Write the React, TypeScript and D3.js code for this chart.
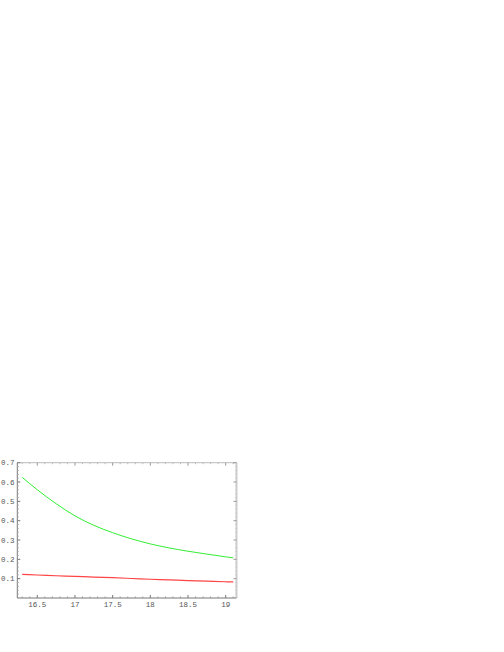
import React from "react";
import { scaleLinear, line, curveMonotoneX, range } from "d3";

const xValues = [16.3, 16.5, 16.75, 17, 17.25, 17.5, 17.75, 18, 18.25, 18.5, 18.75, 19, 19.1];
const greenValues = [0.624, 0.56, 0.488, 0.425, 0.376, 0.338, 0.306, 0.28, 0.259, 0.242, 0.227, 0.213, 0.208];
const redValues = [0.122, 0.119, 0.115, 0.112, 0.108, 0.105, 0.101, 0.097, 0.094, 0.09, 0.087, 0.084, 0.083];

const xTicks = [16.5, 17, 17.5, 18, 18.5, 19];
const yTicks = [0.1, 0.2, 0.3, 0.4, 0.5, 0.6, 0.7];

export default function App() {
  const left = 17.3;
  const right = 236.5;
  const top = 462.7;
  const bottom = 598;

  const x = scaleLinear().domain([16.235, 19.15]).range([left, right + 0.5]);
  const y = scaleLinear().domain([0, 0.7]).range([bottom, top]);

  const path = line<number>()
    .x((d, i) => x(xValues[i]))
    .y((d) => y(d))
    .curve(curveMonotoneX);

  const minorX = range(163, 192).map((v) => v / 10).filter((v) => !xTicks.includes(v));
  const minorY = range(1, 35).map((v) => v / 50).filter((v) => Math.abs((v * 10) % 1) > 0.01 && Math.abs((v * 10) % 1) < 0.99);

  const labelStyle = { fontFamily: "'Liberation Mono', 'DejaVu Sans Mono', monospace", fontSize: 7.5, fill: "#555" };

  return (
    <svg
      width={504}
      height={652}
      style={{ position: "absolute", left: 0, top: 0, background: "white" }}
    >
      {/* frame */}
      <line x1={left} x2={right} y1={top} y2={top} stroke="#bbb" strokeWidth={1} />
      <line x1={right} x2={right} y1={top} y2={bottom} stroke="#ccc" strokeWidth={2} />
      <line x1={left} x2={left} y1={top} y2={bottom} stroke="#777" strokeWidth={1} />
      <line x1={left} x2={right} y1={bottom} y2={bottom} stroke="#777" strokeWidth={1} />

      {/* x ticks */}
      {xTicks.map((t) => (
        <g key={"xt" + t}>
          <line x1={x(t)} x2={x(t)} y1={bottom} y2={bottom - 3} stroke="#777" />
          <line x1={x(t)} x2={x(t)} y1={top} y2={top + 3} stroke="#999" />
          <text x={x(t)} y={bottom + 9} textAnchor="middle" style={labelStyle}>
            {t}
          </text>
        </g>
      ))}
      {minorX.map((t) => (
        <g key={"xm" + t}>
          <line x1={x(t)} x2={x(t)} y1={bottom} y2={bottom - 1.5} stroke="#999" />
          <line x1={x(t)} x2={x(t)} y1={top} y2={top + 1.5} stroke="#bbb" />
        </g>
      ))}

      {/* y ticks */}
      {yTicks.map((t) => (
        <g key={"yt" + t}>
          <line x1={left} x2={left + 3} y1={y(t)} y2={y(t)} stroke="#777" />
          <line x1={right} x2={right - 3} y1={y(t)} y2={y(t)} stroke="#999" />
          <text x={14.5} y={y(t) + 2.5} textAnchor="end" style={labelStyle}>
            {t}
          </text>
        </g>
      ))}
      {minorY.map((t) => (
        <g key={"ym" + t}>
          <line x1={left} x2={left + 1.5} y1={y(t)} y2={y(t)} stroke="#aaa" />
          <line x1={right} x2={right - 1.5} y1={y(t)} y2={y(t)} stroke="#ccc" />
        </g>
      ))}

      {/* curves */}
      <path d={path(greenValues) || ""} fill="none" stroke="#33ee33" strokeWidth={1} />
      <path d={path(redValues) || ""} fill="none" stroke="#ff4444" strokeWidth={1.2} />
    </svg>
  );
}
